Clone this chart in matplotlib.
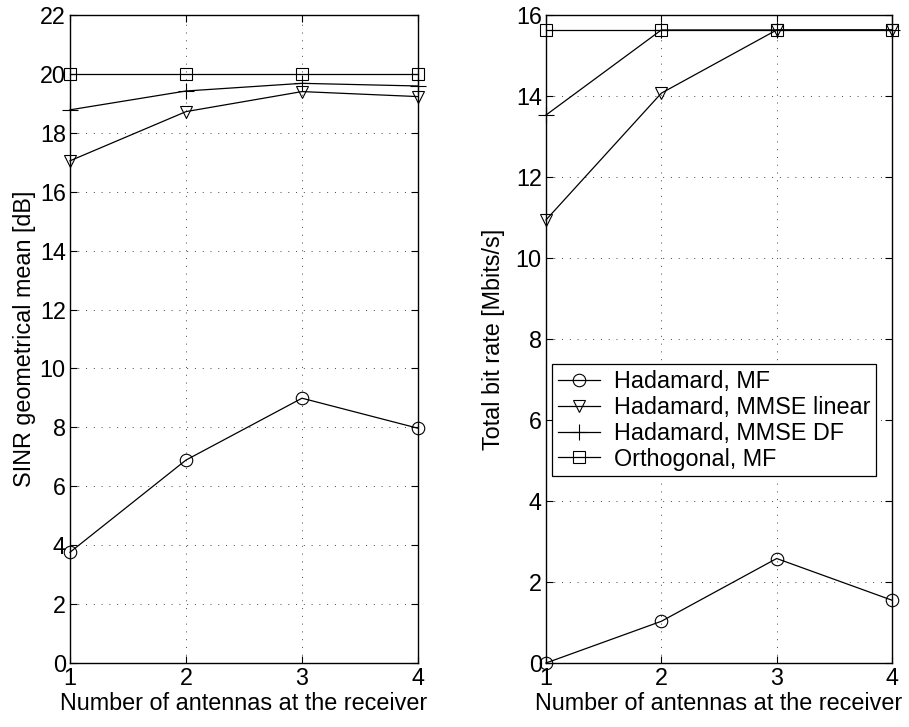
import matplotlib.pyplot as plt

plt.rcParams['font.family'] = ['Liberation Sans', 'DejaVu Sans']
plt.rcParams['font.size'] = 16.8

antennas = [1, 2, 3, 4]

# left: SINR geometrical mean [dB]
sinr_had_mf = [3.76, 6.89, 8.99, 7.97]
sinr_had_mmse_lin = [17.05, 18.72, 19.40, 19.23]
sinr_had_mmse_df = [18.78, 19.42, 19.68, 19.59]
sinr_orth_mf = [20.0, 20.0, 20.0, 20.0]

# right: total bit rate [Mbits/s]
rate_had_mf = [0.0, 1.03, 2.58, 1.55]
rate_had_mmse_lin = [10.94, 14.07, 15.63, 15.63]
rate_had_mmse_df = [13.53, 15.63, 15.63, 15.63]
rate_orth_mf = [15.63, 15.63, 15.63, 15.63]

labels = ['Hadamard, MF', 'Hadamard, MMSE linear', 'Hadamard, MMSE DF', 'Orthogonal, MF']
markers = ['o', 'v', '+', 's']

fig = plt.figure(figsize=(9.09, 7.27), dpi=100)
ax1 = fig.add_axes([70 / 909, 64 / 727, 348 / 909, 648 / 727])
ax2 = fig.add_axes([546 / 909, 64 / 727, 346 / 909, 648 / 727])


def style_axis(ax, ymax):
    ax.set_xlim(1, 4)
    ax.set_ylim(0, ymax)
    ax.set_xticks(antennas)
    ax.set_yticks(range(0, ymax + 1, 2))
    ax.grid(True, linestyle=(0, (1, 7)), color='#444444', linewidth=0.7)
    ax.tick_params(direction='in', top=True, right=True, length=5, width=0.8, pad=3)
    for s in ax.spines.values():
        s.set_linewidth(1.0)
    ax.set_xlabel('Number of antennas at the receiver', labelpad=1)


def draw(ax, series):
    for ys, m, lab in zip(series, markers, labels):
        ax.plot(antennas, ys, color='black', linewidth=0.9, marker=m,
                markersize=9 if m != '+' else 12, markerfacecolor='none',
                markeredgecolor='black', markeredgewidth=0.8, label=lab,
                clip_on=False)


draw(ax1, [sinr_had_mf, sinr_had_mmse_lin, sinr_had_mmse_df, sinr_orth_mf])
style_axis(ax1, 22)
ax1.set_ylabel('SINR geometrical mean [dB]', labelpad=3)

draw(ax2, [rate_had_mf, rate_had_mmse_lin, rate_had_mmse_df, rate_orth_mf])
style_axis(ax2, 16)
ax2.set_ylabel('Total bit rate [Mbits/s]', labelpad=8)

leg = ax2.legend(loc='upper left', bbox_to_anchor=(0.0, 0.47), frameon=True,
                 fancybox=False, edgecolor='black', framealpha=1,
                 handlelength=1.8, handletextpad=0.6, labelspacing=0.12,
                 borderpad=0.25, borderaxespad=0.25)
leg.get_frame().set_linewidth(0.9)

fig.savefig('out.png', dpi=100)
